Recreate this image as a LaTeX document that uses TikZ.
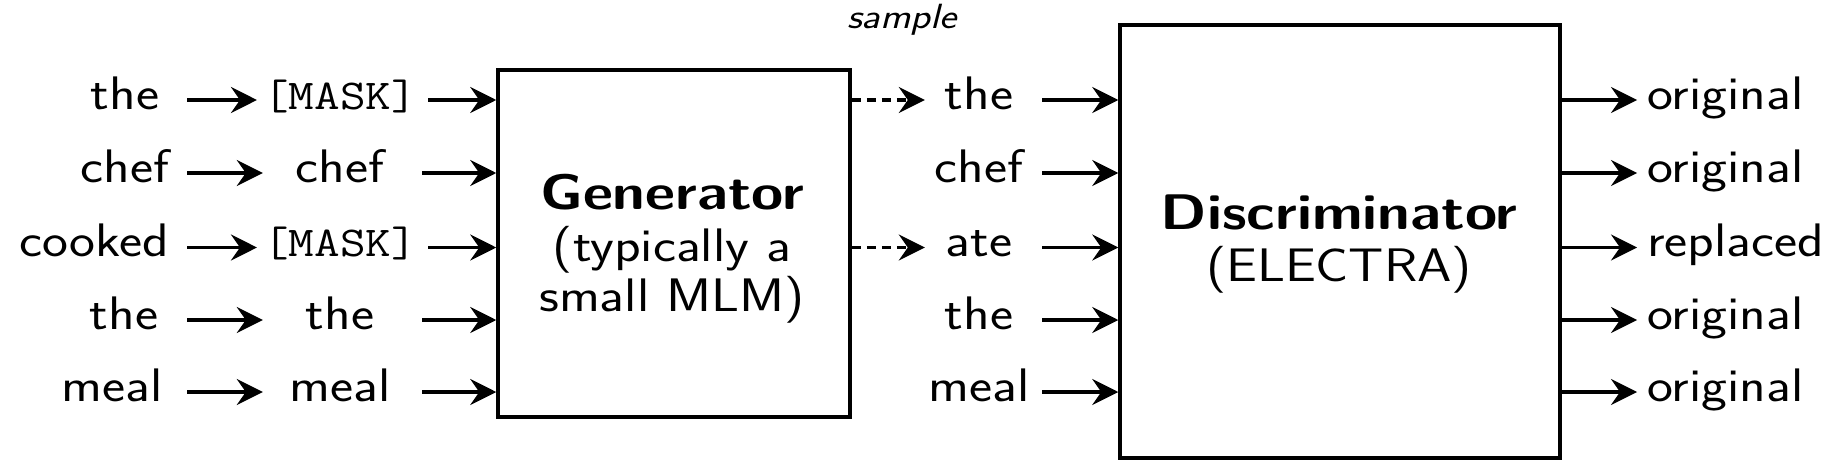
\documentclass[tikz,border=0pt]{standalone}
\usepackage{fontspec}
\usepackage{graphicx}
\usetikzlibrary{arrows.meta}
\newcommand{\rfont}{\fontsize{47}{52}\selectfont\sffamily}
\newcommand{\bfont}{\fontsize{50}{55}\selectfont\sffamily\bfseries}
\newcommand{\mfont}{\fontsize{42.5}{46}\selectfont\ttfamily}
\newcommand{\ifont}{\fontsize{35}{40}\selectfont\sffamily\itshape}
\newcommand{\sx}[1]{\scalebox{1.17}[1]{#1}}
\newcommand{\rw}[1]{\raisebox{-7pt}{\scalebox{1.17}[1]{#1}}}
\begin{document}
\begin{tikzpicture}[x=1pt,y=-1pt,
  word/.style={inner sep=0pt, font=\rfont},
  mword/.style={word, minimum width=142pt},
  sword/.style={word, minimum width=108pt},
  box/.style={draw, line width=3.5pt, inner sep=0pt},
  btitle/.style={inner sep=0pt, anchor=base, font=\bfont},
  bsub/.style={inner sep=0pt, anchor=base, font=\rfont},
  arr/.style={line width=3.5pt, -{Stealth[length=26pt,width=26pt,inset=9pt]}},
  dsh/.style={arr, dash pattern=on 9pt off 6pt}]
\useasboundingbox (0,0) rectangle (1827,468);
\def\ra{100}\def\rb{173}\def\rc{247.5}\def\rd{320}\def\re{392}
% boxes
\node[box, minimum width=352pt, minimum height=347pt] (gen) at (674,243.5) {};
\node[box, minimum width=440pt, minimum height=433pt] (disc) at (1340,241.5) {};
\node[btitle] (gt) at (672,209) {\sx{Generator}};
\node[bsub] (g2) at (672,261) {\sx{(typically a}};
\node[bsub] (g3) at (672,311) {\sx{small MLM)}};
\node[btitle] (dt) at (1339,229) {\sx{Discriminator}};
\node[bsub] (d2) at (1339,281) {\sx{(ELECTRA)}};
\node[inner sep=0pt, anchor=base, font=\ifont] (smp) at (902,29) {\sx{sample}};
% column 1
\coordinate (a0) at (187,0);
\node[word, anchor=mid] (w1) at (125,\ra) {\rw{the}};
\node[word, anchor=mid] (w2) at (125,\rb) {\rw{chef}};
\node[word, anchor=mid] (w3) at (94,\rc) {\rw{cooked}};
\node[word, anchor=mid] (w4) at (124,\rd) {\rw{the}};
\node[word, anchor=mid] (w5) at (112,\re) {\rw{meal}};
% column 2
\node[mword, anchor=mid] (m1) at (340,\ra) {\rw{\mfont [MASK]}};
\node[mword, anchor=mid] (m2) at (340,\rb) {\rw{chef}};
\node[mword, anchor=mid] (m3) at (340,\rc) {\rw{\mfont [MASK]}};
\node[mword, anchor=mid] (m4) at (340,\rd) {\rw{the}};
\node[mword, anchor=mid] (m5) at (340,\re) {\rw{meal}};
% column 3
\node[sword, anchor=mid] (s1) at (979,\ra) {\rw{the}};
\node[sword, anchor=mid] (s2) at (979,\rb) {\rw{chef}};
\node[sword, anchor=mid] (s3) at (979,\rc) {\rw{ate}};
\node[sword, anchor=mid] (s4) at (979,\rd) {\rw{the}};
\node[sword, anchor=mid] (s5) at (979,\re) {\rw{meal}};
% outputs
\node[word, anchor=mid west] (o1) at (1647,\ra) {\rw{original}};
\node[word, anchor=mid west] (o2) at (1647,\rb) {\rw{original}};
\node[word, anchor=mid west] (o3) at (1647,\rc) {\rw{replaced}};
\node[word, anchor=mid west] (o4) at (1647,\rd) {\rw{original}};
\node[word, anchor=mid west] (o5) at (1647,\re) {\rw{original}};
% arrows
\foreach \i in {1,...,5}{
  \draw[arr, shorten >=6pt] (m\i.mid west -| a0) -- (m\i.mid west);
  \draw[arr, shorten <=11pt] (m\i.mid east) -- (m\i.mid east -| gen.west);
  \draw[arr, shorten <=9pt] (s\i.mid east) -- (s\i.mid east -| disc.west);
  \draw[arr, shorten >=10pt] (o\i.mid west -| disc.east) -- (o\i.mid west);
}
\draw[dsh] (s1.mid west -| gen.east) -- (s1.mid west);
\draw[dsh] (s3.mid west -| gen.east) -- (s3.mid west);
\end{tikzpicture}
\end{document}
